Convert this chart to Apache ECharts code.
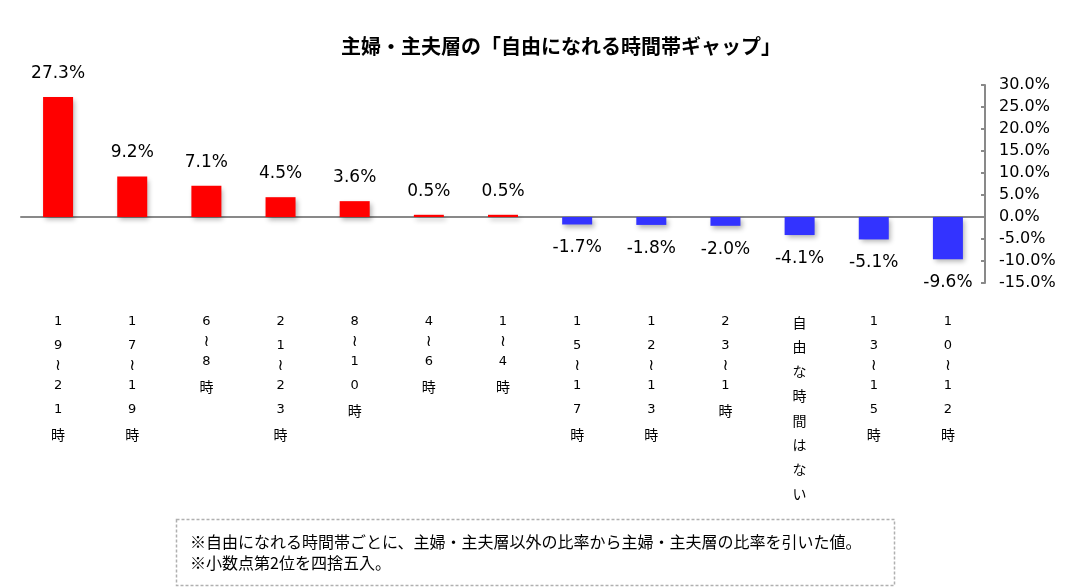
<!DOCTYPE html>
<html lang="ja">
<head>
<meta charset="UTF-8">
<title>自由になれる時間帯ギャップ</title>
<script src="https://cdn.jsdelivr.net/npm/echarts@6/dist/echarts.min.js"></script>
<style>
  html, body { margin: 0; padding: 0; background: #fff; }
  #main { width: 1072px; height: 588px; }
</style>
</head>
<body>
<div id="main"></div>
<script>
// データ
var categories = ['19～21時', '17～19時', '6～8時', '21～23時', '8～10時', '4～6時', '1～4時',
                  '15～17時', '12～13時', '23～1時', '自由な時間はない', '13～15時', '10～12時'];
var gapValues = [27.3, 9.2, 7.1, 4.5, 3.6, 0.5, 0.5, -1.7, -1.8, -2.0, -4.1, -5.1, -9.6];
var yTicks = { min: -15, max: 30, interval: 5 };
var noteLines = [
  '※自由になれる時間帯ごとに、主婦・主夫層以外の比率から主婦・主夫層の比率を引いた値。',
  '※小数点第2位を四捨五入。'
];

var latin = '"DejaVu Sans", Verdana, sans-serif';
var jp = '"Noto Sans CJK JP", sans-serif';

// 縦書きラベル（1文字ずつ改行）
function verticalLabel(s) {
  return s.split('').map(function (c) {
    return c === '～' ? '{t|≀}' : (/[0-9]/.test(c) ? '{d|' + c + '}' : '{k|' + c + '}');
  }).join('\n');
}

var myChart = echarts.init(document.getElementById('main'));
myChart.setOption({
  backgroundColor: '#fff',
  animation: false,
  title: {
    text: '主婦・主夫層の「自由になれる時間帯ギャップ」',
    left: 336, top: 31,
    textStyle: { fontFamily: jp, fontSize: 20, fontWeight: 'bold', color: '#000' }
  },
  grid: { left: 21, right: 87, top: 85, bottom: 305 },
  xAxis: [{
    type: 'category',
    data: categories,
    axisLine: { onZero: true, lineStyle: { color: '#898989', width: 2 } },
    axisTick: { show: false },
    axisLabel: { show: false }
  }, {
    type: 'category',
    data: categories,
    position: 'bottom',
    axisLine: { show: false, onZero: false },
    axisTick: { show: false },
    axisLabel: {
      margin: 27,
      interval: 0,
      formatter: verticalLabel,
      rich: {
        d: { fontFamily: latin, fontSize: 13, color: '#000', lineHeight: 24 },
        k: { fontFamily: jp, fontSize: 14, color: '#000', lineHeight: 24.5 },
        t: { fontFamily: latin, fontSize: 16, color: '#000', lineHeight: 16 }
      }
    }
  }],
  yAxis: {
    type: 'value',
    position: 'right',
    min: yTicks.min, max: yTicks.max, interval: yTicks.interval,
    splitLine: { show: false },
    axisLine: { show: true, lineStyle: { color: '#898989', width: 2 } },
    axisTick: { show: true, inside: true, length: 4, lineStyle: { color: '#898989', width: 2 } },
    axisLabel: {
      margin: 14,
      fontFamily: latin, fontSize: 16, color: '#000',
      formatter: function (v) { return v.toFixed(1) + '%'; }
    }
  },
  series: [{
    type: 'bar',
    xAxisIndex: 0,
    data: gapValues.map(function (v) {
      return {
        value: v,
        label: { position: v >= 0 ? 'top' : 'bottom' }
      };
    }),
    barWidth: 30,
    itemStyle: {
      color: function (p) { return p.value >= 0 ? '#FF0000' : '#3333FF'; },
      shadowBlur: 5, shadowOffsetX: 2, shadowOffsetY: 3, shadowColor: 'rgba(0,0,0,0.3)'
    },
    label: {
      show: true,
      distance: 15,
      fontFamily: latin, fontSize: 17, color: '#000',
      formatter: function (p) { return p.value.toFixed(1) + '%'; }
    }
  }],
  graphic: [{
    type: 'rect',
    shape: { x: 176.5, y: 519.5, width: 718, height: 66 },
    style: { fill: '#fff', stroke: '#b0b0b0', lineWidth: 1.5, lineDash: [3, 2] }
  }, {
    type: 'text',
    left: 190, top: 531,
    style: {
      text: noteLines.join('\n'),
      font: '16px ' + jp,
      lineHeight: 21,
      fill: '#000'
    }
  }]
});
</script>
</body>
</html>
